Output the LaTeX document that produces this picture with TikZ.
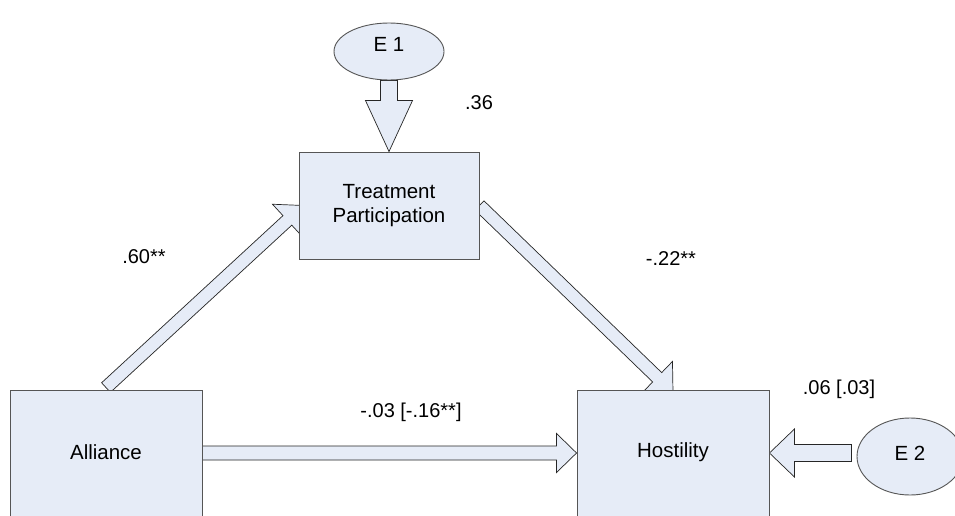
\documentclass[tikz,border=0pt]{standalone}
\usepackage{fontspec}
\setmainfont{Liberation Sans}
\usetikzlibrary{calc,shapes.geometric}
\pgfdeclarelayer{background}
\pgfsetlayers{background,main}

\definecolor{boxfill}{HTML}{E6ECF7}
\definecolor{boxline}{HTML}{555555}

% raise a node's text without changing the node's size
\newcommand\lifttext[2]{\raisebox{#1}[\height][\depth]{#2}}

% block arrow: start, tip, shaft half-width, head half-width, head length
\newcommand\blockarrow[5]{%
  \coordinate (ba-s) at #1;
  \coordinate (ba-e) at #2;
  \coordinate (ba-h) at ($(ba-e)!#5!(ba-s)$);
  \draw[blockarrow]
    ($(ba-s)!#3!90:(ba-e)$) -- ($(ba-h)!#3!-90:(ba-s)$) --
    ($(ba-h)!#4!-90:(ba-s)$) -- (ba-e) --
    ($(ba-h)!#4!90:(ba-s)$) -- ($(ba-h)!#3!90:(ba-s)$) --
    ($(ba-s)!#3!-90:(ba-e)$) -- cycle;}

\tikzset{
  x=1pt, y=-1pt,
  every node/.style={font=\fontsize{20.5}{24}\selectfont},
  varbox/.style={draw=boxline, fill=boxfill, line width=0.9pt, rectangle,
    inner sep=0pt, align=center},
  errnode/.style={draw=boxline, fill=boxfill, line width=0.9pt, ellipse,
    inner sep=0pt},
  blockarrow/.style={draw=black!85, fill=boxfill, line width=0.7pt,
    line join=miter},
  coef/.style={font=\fontsize{20}{24}\selectfont, inner sep=0pt},
}

\begin{document}
\begin{tikzpicture}
\clip (0,0) rectangle (955,516);

% variables
\node[varbox, minimum width=180pt, minimum height=107pt] (tp) at (389,205.5)
  {Treatment\\Participation};
\node[varbox, minimum width=192pt, minimum height=140pt] (al) at (106,460)
  {\lifttext{8pt}{Alliance}};
\node[varbox, minimum width=192pt, minimum height=140pt] (ho) at (673,460)
  {\lifttext{8pt}{Hostility}};

% error terms
\node[errnode, minimum width=110pt, minimum height=57pt] (e1) at (389,51.5)
  {\lifttext{7pt}{E 1}};
\node[errnode, minimum width=106pt, minimum height=77pt] (e2) at (910,456.5)
  {\lifttext{3pt}{E 2}};

% paths, drawn beneath the boxes
\begin{pgfonlayer}{background}
\fill[white] (0,0) rectangle (955,516);
\blockarrow{(e1.south)}{(tp.north)}{8.5pt}{23.5pt}{51pt}
\blockarrow{($(al.north)+(0,-2)$)}{($(tp.west)+(5,0)$)}{6.5pt}{22pt}{22pt}
\blockarrow{(tp.east)}{($(ho.north)+(0,3)$)}{6.5pt}{22pt}{22pt}
\blockarrow{($(al.east)+(0,-7)$)}{($(ho.west)+(0,-7)$)}{7pt}{19.5pt}{20pt}
\blockarrow{($(e2.west)+(-5,-3.5)$)}{($(ho.east)+(0,-7)$)}{8.5pt}{24pt}{25pt}
\end{pgfonlayer}

% coefficients
\node[coef] (c-e1) at (479,103) {.36};
\node[coef] (c-atp) at (144,257) {.60**};
\node[coef] (c-tph) at (671,259) {-.22**};
\node[coef] (c-ah) at (411,412) {-.03 [-.16**]};
\node[coef] (c-e2) at (839,389) {.06 [.03]};
\end{tikzpicture}
\end{document}
